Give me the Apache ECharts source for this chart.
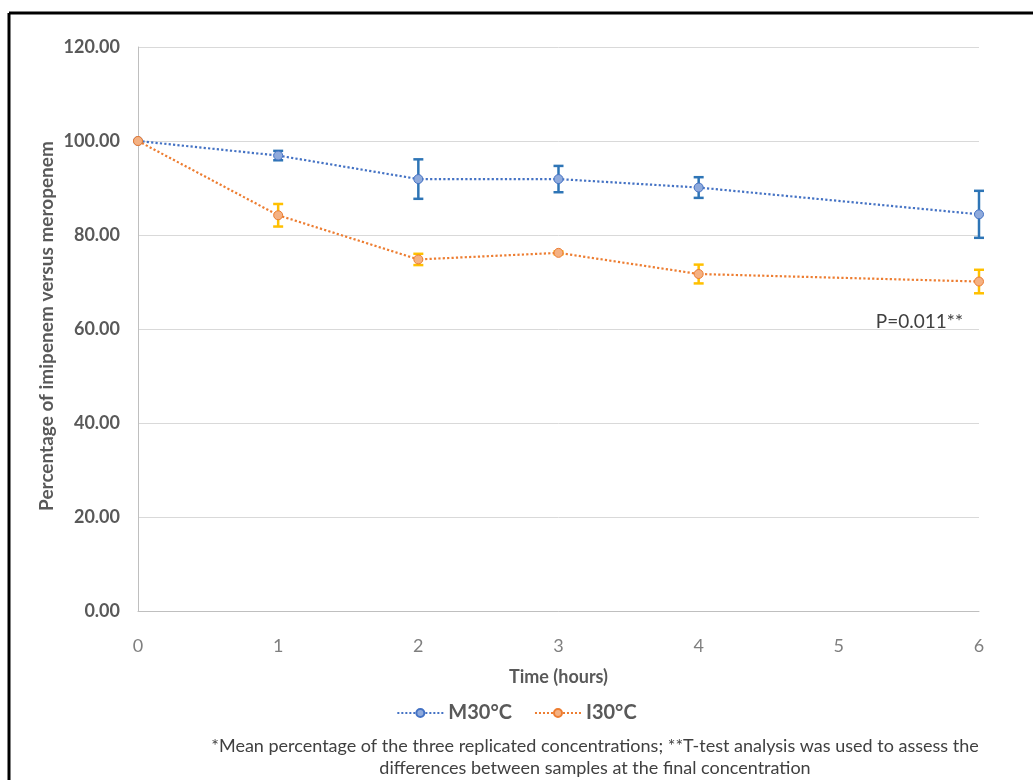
<!DOCTYPE html>
<html>
<head>
<meta charset="utf-8" />
<title>Imipenem vs meropenem</title>
<script src="https://cdn.jsdelivr.net/npm/echarts@6/dist/echarts.min.js"></script>
<style>
  html, body { margin: 0; padding: 0; background: #fff; }
  #main { width: 1033px; height: 780px; }
</style>
</head>
<body>
<div id="main"></div>
<script>
// data
var hours = [0, 1, 2, 3, 4, 6];
var m30 = [100, 96.9, 91.9, 91.9, 90.1, 84.4];
var m30Err = [0, 1.0, 4.2, 2.8, 2.2, 5.0];
var i30 = [100, 84.2, 74.8, 76.2, 71.7, 70.1];
var i30Err = [0, 2.4, 1.2, 0.3, 2.0, 2.5];
var yTicks = [0, 20, 40, 60, 80, 100, 120];

var font = 'Lato, "Open Sans", sans-serif';

function pairs(xs, ys) {
  var out = [];
  for (var i = 0; i < xs.length; i++) out.push([xs[i], ys[i]]);
  return out;
}
function errRows(xs, ys, es) {
  var out = [];
  for (var i = 0; i < xs.length; i++) {
    if (es[i] > 0) out.push([xs[i], ys[i] - es[i], ys[i] + es[i]]);
  }
  return out;
}
// draws one error bar with caps
function errBar(color) {
  return function (params, api) {
    var lo = api.coord([api.value(0), api.value(1)]);
    var hi = api.coord([api.value(0), api.value(2)]);
    var w = 5;
    var st = { stroke: color, lineWidth: 2.5 };
    return {
      type: 'group',
      children: [
        { type: 'line', shape: { x1: lo[0], y1: lo[1], x2: hi[0], y2: hi[1] }, style: st },
        { type: 'line', shape: { x1: lo[0] - w, y1: lo[1], x2: lo[0] + w, y2: lo[1] }, style: st },
        { type: 'line', shape: { x1: hi[0] - w, y1: hi[1], x2: hi[0] + w, y2: hi[1] }, style: st }
      ]
    };
  };
}

var chart = echarts.init(document.getElementById('main'));
chart.setOption({
  backgroundColor: '#fff',
  animation: false,
  grid: { left: 138, right: 54, top: 47, bottom: 169 },
  xAxis: {
    type: 'value', min: 0, max: 6, interval: 1,
    name: 'Time (hours)', nameLocation: 'middle', nameGap: 57,
    nameTextStyle: { fontFamily: font, fontSize: 18, fontWeight: 'bold', color: '#595959' },
    axisLine: { lineStyle: { color: '#bfbfbf', width: 1 } },
    axisTick: { show: false },
    axisLabel: { fontFamily: font, fontSize: 18, color: '#7f7f7f', margin: 26 },
    splitLine: { show: false }
  },
  yAxis: {
    type: 'value', min: yTicks[0], max: yTicks[yTicks.length - 1], interval: 20,
    axisLine: { show: true, lineStyle: { color: '#bfbfbf', width: 1 } },
    axisTick: { show: false },
    axisLabel: {
      fontFamily: font, fontSize: 18, fontWeight: 'bold', color: '#595959', margin: 18,
      formatter: function (v) { return v.toFixed(2); }
    },
    splitLine: { lineStyle: { color: '#d9d9d9', width: 1 } }
  },
  legend: {
    bottom: 52, left: 'center', itemGap: 22, itemWidth: 46, itemHeight: 10,
    textStyle: { fontFamily: font, fontSize: 20, fontWeight: 'bold', color: '#595959' },
    data: ['M30°C', 'I30°C']
  },
  series: [
    {
      name: 'M30°C', type: 'line', data: pairs(hours, m30), z: 3,
      symbol: 'circle', symbolSize: 9,
      lineStyle: { color: '#4472c4', width: 2.2, type: 'dotted' },
      itemStyle: { color: '#8faadc', borderColor: '#4472c4', borderWidth: 1 }
    },
    {
      name: 'I30°C', type: 'line', data: pairs(hours, i30), z: 3,
      symbol: 'circle', symbolSize: 9,
      lineStyle: { color: '#ed7d31', width: 2.2, type: 'dotted' },
      itemStyle: { color: '#f4b183', borderColor: '#ed7d31', borderWidth: 1 }
    },
    {
      type: 'custom', name: 'M30 err', data: errRows(hours, m30, m30Err),
      renderItem: errBar('#2e75b6'), encode: { x: 0, y: [1, 2] }, z: 2, silent: true
    },
    {
      type: 'custom', name: 'I30 err', data: errRows(hours, i30, i30Err),
      renderItem: errBar('#ffc000'), encode: { x: 0, y: [1, 2] }, z: 2, silent: true
    }
  ],
  graphic: [
    { type: 'line', shape: { x1: 9, y1: 13, x2: 1033, y2: 13 }, style: { stroke: '#000', lineWidth: 3 } },
    { type: 'line', shape: { x1: 9, y1: 13, x2: 9, y2: 780 }, style: { stroke: '#000', lineWidth: 3 } },
    {
      type: 'text', x: 47, y: 326, rotation: Math.PI / 2,
      style: {
        text: 'Percentage of imipenem versus meropenem', fontFamily: font, fontSize: 19,
        fontWeight: 'bold', fill: '#595959', align: 'center', verticalAlign: 'middle'
      }
    },
    {
      type: 'text', x: 963, y: 322,
      style: { text: 'P=0.011**', fontFamily: font, fontSize: 19, fill: '#404040', align: 'right', verticalAlign: 'middle' }
    },
    {
      type: 'text', x: 595, y: 746,
      style: {
        text: '*Mean percentage of the three replicated concentrations; **T-test analysis was used to assess the',
        fontFamily: font, fontSize: 18, fill: '#404040', align: 'center', verticalAlign: 'middle'
      }
    },
    {
      type: 'text', x: 595, y: 768,
      style: {
        text: 'differences between samples at the final concentration',
        fontFamily: font, fontSize: 18, fill: '#404040', align: 'center', verticalAlign: 'middle'
      }
    }
  ]
});
</script>
</body>
</html>
